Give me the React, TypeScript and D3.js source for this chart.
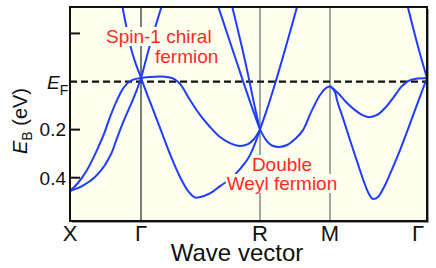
import React, { useEffect, useRef } from 'react';
import * as d3 from 'd3';

// k path: X - Γ - R - M - Γ (one unit per segment)
const kTicks = [0, 1, 2, 3, 4];
const kLabels = ['X', 'Γ', 'R', 'M', 'Γ'];
const eTicks = [-0.2, 0, 0.2, 0.4];
const eLabels = ['', '', '0.2', '0.4'];

type P = [number, number];

// bands, [k, E_B (eV)]
const bandXGa: P[] = [[0, 0.455], [0.113, 0.422], [0.239, 0.368], [0.38, 0.285], [0.479, 0.218], [0.563, 0.148], [0.662, 0.077], [0.761, 0.023], [0.873, -0.006], [1, -0.015]];
const bandXGb: P[] = [[0, 0.455], [0.169, 0.435], [0.352, 0.397], [0.493, 0.347], [0.592, 0.293], [0.662, 0.235], [0.761, 0.16], [0.859, 0.094], [1, -0.015], [1.059, -0.123], [1.19, -0.34]];
const coneGR: P[] = [[0.72, -0.34], [0.866, -0.131], [1, -0.015], [1.076, 0.085], [1.16, 0.193], [1.244, 0.302], [1.328, 0.397], [1.395, 0.455], [1.462, 0.483], [1.529, 0.476], [1.597, 0.46], [1.664, 0.435], [1.748, 0.406], [1.832, 0.364], [1.916, 0.306], [1.966, 0.248], [2, 0.2]];
const flatGR: P[] = [[1, -0.015], [1.076, -0.019], [1.16, -0.021], [1.244, -0.017], [1.328, 0.01], [1.412, 0.077], [1.496, 0.139], [1.58, 0.189], [1.664, 0.231], [1.748, 0.256], [1.832, 0.268], [1.899, 0.26], [1.95, 0.239], [2, 0.2]];
const steepR1: P[] = [[1.63, -0.34], [1.79, -0.102], [1.941, 0.119], [2, 0.2]];
const steepR2: P[] = [[1.752, -0.34], [1.874, -0.087], [1.966, 0.127], [2, 0.2]];
const upRM: P[] = [[2, 0.2], [2.096, 0.119], [2.557, -0.34]];
const bowlRM: P[] = [[2, 0.2], [2.086, 0.243], [2.171, 0.266], [2.271, 0.272], [2.386, 0.264], [2.5, 0.239], [2.614, 0.202], [2.743, 0.119], [2.857, 0.056], [2.943, 0.027], [3, 0.019]];
const shallowMG: P[] = [[3, 0.019], [3.082, 0.048], [3.165, 0.085], [3.258, 0.119], [3.33, 0.139], [3.402, 0.148], [3.485, 0.139], [3.567, 0.11], [3.649, 0.069], [3.732, 0.023], [3.804, -0.002], [3.887, -0.012], [4, -0.015]];
const deepMG: P[] = [[3, 0.019], [3.052, 0.044], [3.072, 0.077], [3.134, 0.152], [3.206, 0.243], [3.278, 0.331], [3.351, 0.418], [3.402, 0.468], [3.443, 0.489], [3.495, 0.48], [3.567, 0.431], [3.649, 0.356], [3.722, 0.285], [3.804, 0.198], [3.876, 0.119], [3.938, 0.052], [4, -0.015]];
const upMG: P[] = [[3.784, -0.34], [3.907, -0.146], [4, -0.015]];

const bands = [bandXGa, bandXGb, coneGR, flatGR, steepR1, steepR2, upRM, bowlRM, shallowMG, deepMG, upMG];

const FONT = "'Liberation Sans', Arial, Helvetica, sans-serif";
const BLUE = '#1f3dff';
const RED = '#ff2a1f';
const BG = '#fffff0';

const App: React.FC = () => {
  const ref = useRef<SVGSVGElement>(null);

  useEffect(() => {
    const svg = d3.select(ref.current);
    svg.selectAll('*').remove();

    const left = 70, right = 427, top = 7, bottom = 221;

    const x = d3.scaleLinear().domain(kTicks).range([left, 141, 260, 330, right]);
    const y = d3.scaleLinear().domain([-0.31, 0.58]).range([top, bottom]);

    // shadow + background
    svg.append('rect')
      .attr('x', left + 2).attr('y', top + 2)
      .attr('width', right - left).attr('height', bottom - top)
      .attr('fill', '#9a9a9a');
    svg.append('rect')
      .attr('x', left).attr('y', top)
      .attr('width', right - left).attr('height', bottom - top)
      .attr('fill', BG);

    svg.append('clipPath').attr('id', 'plotclip')
      .append('rect')
      .attr('x', left).attr('y', top)
      .attr('width', right - left).attr('height', bottom - top);

    // high-symmetry lines
    svg.selectAll('.kline')
      .data(kTicks.slice(1, 4))
      .enter()
      .append('line')
      .attr('x1', d => x(d)).attr('x2', d => x(d))
      .attr('y1', top).attr('y2', bottom)
      .attr('stroke', (d, i) => (i === 0 ? '#333' : '#777'))
      .attr('stroke-width', 1.3);

    // Fermi level
    svg.append('line')
      .attr('x1', left).attr('x2', right)
      .attr('y1', y(0)).attr('y2', y(0))
      .attr('stroke', '#111')
      .attr('stroke-width', 2.2)
      .attr('stroke-dasharray', '7,4');

    const line = d3.line<P>()
      .x(d => x(d[0]))
      .y(d => y(d[1]))
      .curve(d3.curveMonotoneX);

    svg.append('g')
      .attr('clip-path', 'url(#plotclip)')
      .selectAll('path')
      .data(bands)
      .enter()
      .append('path')
      .attr('d', d => line(d) ?? '')
      .attr('fill', 'none')
      .attr('stroke', BLUE)
      .attr('stroke-width', 2);

    // annotations with background boxes
    const notes = [
      { text: 'Spin-1 chiral', x: 106, y: 43, anchor: 'start' },
      { text: 'fermion', x: 155, y: 63, anchor: 'start' },
      { text: 'Double', x: 282, y: 171, anchor: 'middle' },
      { text: 'Weyl fermion', x: 282, y: 190, anchor: 'middle' },
    ];
    const ng = svg.append('g');
    notes.forEach(n => {
      const box = ng.append('rect').attr('fill', BG);
      const t = ng.append('text')
        .attr('x', n.x).attr('y', n.y)
        .attr('text-anchor', n.anchor)
        .attr('font-family', FONT)
        .attr('font-size', 19)
        .attr('fill', RED)
        .text(n.text);
      const bb = (t.node() as SVGTextElement).getBBox();
      box.attr('x', bb.x - 1).attr('y', bb.y + 1)
        .attr('width', bb.width + 2).attr('height', bb.height - 2);
    });

    // frame
    svg.append('rect')
      .attr('x', left).attr('y', top)
      .attr('width', right - left).attr('height', bottom - top)
      .attr('fill', 'none')
      .attr('stroke', '#111')
      .attr('stroke-width', 2);

    // y ticks (inward)
    svg.selectAll('.ytick')
      .data(eTicks.filter(d => d !== 0))
      .enter()
      .append('line')
      .attr('x1', left).attr('x2', left + 10)
      .attr('y1', d => y(d)).attr('y2', d => y(d))
      .attr('stroke', '#111')
      .attr('stroke-width', 2);

    svg.selectAll('.ylab')
      .data(eTicks)
      .enter()
      .append('text')
      .attr('x', left - 4)
      .attr('y', d => y(d))
      .attr('dy', '0.36em')
      .attr('text-anchor', 'end')
      .attr('font-family', FONT)
      .attr('font-size', 19)
      .attr('fill', '#111')
      .text((d, i) => eLabels[i]);

    // E_F label
    const ef = svg.append('text')
      .attr('x', 47).attr('y', y(0) + 7)
      .attr('font-family', FONT)
      .attr('fill', '#111');
    ef.append('tspan').attr('font-size', 19).attr('font-style', 'italic').text('E');
    ef.append('tspan').attr('font-size', 14).attr('dy', 6).text('F');

    // x labels
    svg.selectAll('.xlab')
      .data(kTicks)
      .enter()
      .append('text')
      .attr('x', d => (d === 4 ? x(d) - 9 : x(d)))
      .attr('y', 241)
      .attr('text-anchor', 'middle')
      .attr('font-family', FONT)
      .attr('font-size', 22)
      .attr('fill', '#111')
      .text((d, i) => kLabels[i]);

    svg.append('text')
      .attr('x', 237).attr('y', 261)
      .attr('text-anchor', 'middle')
      .attr('font-family', FONT)
      .attr('font-size', 24)
      .attr('fill', '#111')
      .text('Wave vector');

    // y title
    const yt = svg.append('text')
      .attr('transform', 'translate(27,121) rotate(-90)')
      .attr('text-anchor', 'middle')
      .attr('font-family', FONT)
      .attr('fill', '#111');
    yt.append('tspan').attr('font-size', 20).attr('font-style', 'italic').text('E');
    yt.append('tspan').attr('font-size', 14).attr('dy', 5).text('B');
    yt.append('tspan').attr('font-size', 20).attr('dy', -5).text(' (eV)');
  }, []);

  return (
    <svg
      ref={ref}
      width={436}
      height={268}
      style={{ position: 'absolute', left: 0, top: 0, background: '#fff' }}
    />
  );
};

export default App;
